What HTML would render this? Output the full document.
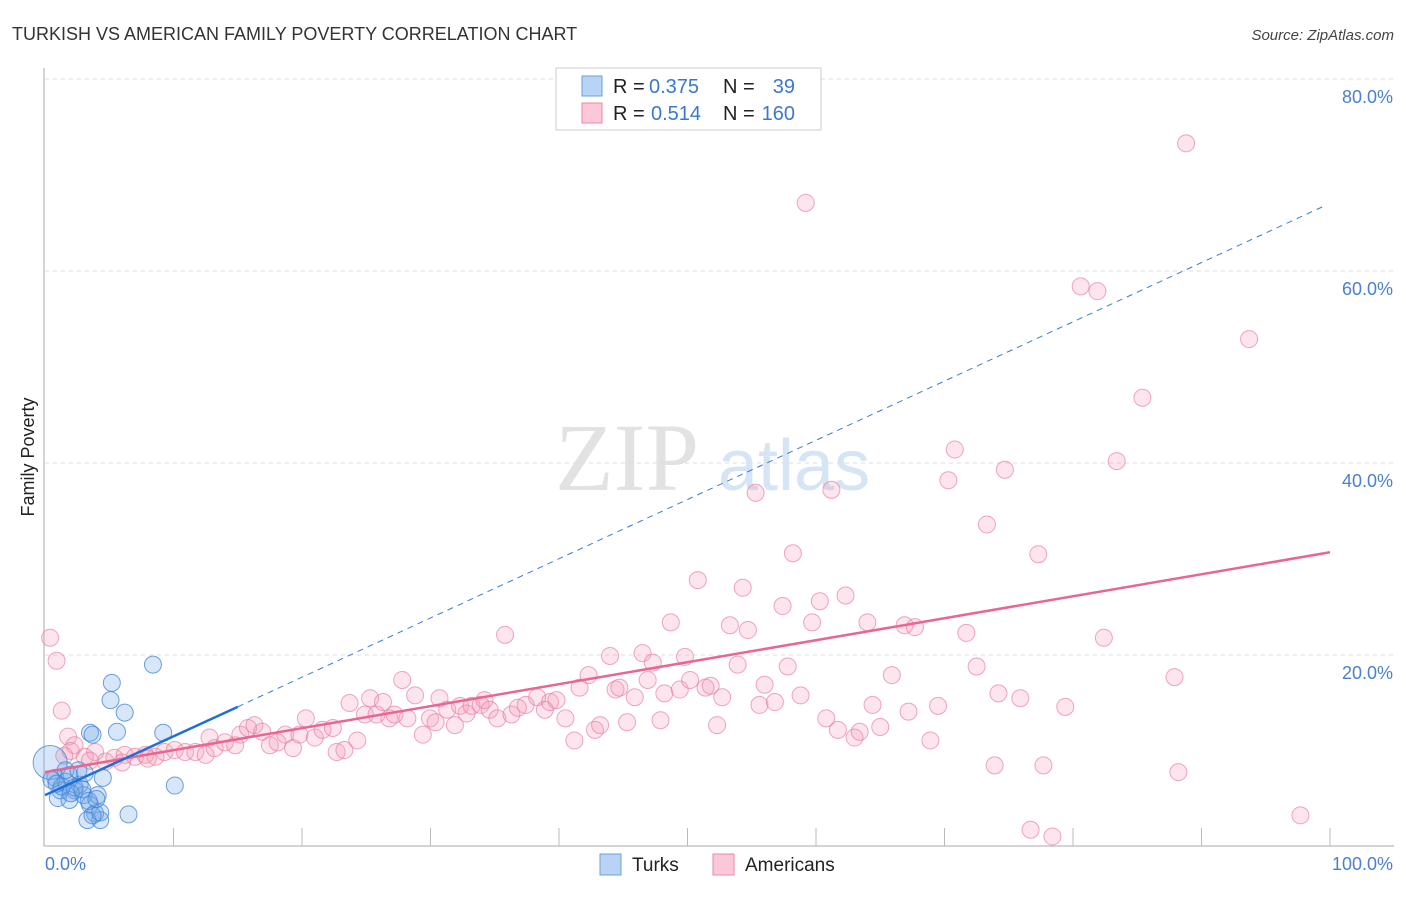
<!DOCTYPE html>
<html><head><meta charset="utf-8"><style>
body{margin:0;background:#fff;font-family:"Liberation Sans",sans-serif}
</style></head><body>
<svg id="c" width="1406" height="892" xmlns="http://www.w3.org/2000/svg">
<text x="12" y="40" font-size="18" fill="#333">TURKISH VS AMERICAN FAMILY POVERTY CORRELATION CHART</text>
<text x="1394" y="40" font-size="15" fill="#444" font-style="italic" text-anchor="end">Source: ZipAtlas.com</text>
<g><text x="555" y="490" font-size="96" font-family="Liberation Serif,serif" fill="#e2e2e2">ZIP</text><text x="718" y="490" font-size="72" fill="#d6e5f5">atlas</text></g>
<g id="grid"></g><g id="pts"></g><g id="lines"></g>
<text transform="translate(34,457) rotate(-90)" font-size="18" fill="#222" text-anchor="middle">Family Poverty</text>
<text x="45" y="870" font-size="18" fill="#4a7fd0">0.0%</text>
<text x="1393" y="870" font-size="18" fill="#4a7fd0" text-anchor="end">100.0%</text>
<g font-size="20">
<rect x="556" y="68" width="265" height="62" fill="#fff" stroke="#ccc"/>
<rect x="582" y="76" width="20" height="20" fill="#b8d3f5" stroke="#6c9fdc"/>
<rect x="582" y="103" width="20" height="20" fill="#fbc8d8" stroke="#e889a8"/>
<text x="613" y="93" fill="#222">R =</text><text x="649" y="93" fill="#3a78d0">0.375</text>
<text x="723" y="93" fill="#222">N =</text><text x="795" y="93" fill="#3a78d0" text-anchor="end">39</text>
<text x="613" y="120" fill="#222">R =</text><text x="651" y="120" fill="#3a78d0">0.514</text>
<text x="723" y="120" fill="#222">N =</text><text x="795" y="120" fill="#3a78d0" text-anchor="end">160</text>
</g>
<g>
<rect x="600" y="854" width="21" height="21" fill="#b8d3f5" stroke="#6c9fdc"/>
<text x="632" y="871" font-size="19" fill="#222">Turks</text>
<rect x="713" y="854" width="21" height="21" fill="#fbc8d8" stroke="#e889a8"/>
<text x="745" y="871" font-size="19" fill="#222">Americans</text>
</g>
</svg>
<script>
const yTicks=[20,40,60,80];
const xTicks=[10,20,30,40,50,60,70,80,90,100];
const turksX=[8.4,5.2,5.1,6.2,3.5,3.7,5.6,9.2,10.1,6.5,0.4,0.8,1.2,1.6,1.9,1.0,2.3,2.7,3.0,1.9,3.5,3.9,4.3,3.3,3.7,4.3,4.5,4.1,1.6,2.6,3.1,2.3,0.5,1.3,2.0,2.9,3.4,4.0,0.9];
const turksY=[19.0,17.1,15.3,14.0,11.9,11.7,12.0,11.9,6.4,3.4,8.8,7.2,5.9,6.8,7.5,5.1,5.9,6.5,5.4,4.9,4.4,3.5,2.8,2.8,3.3,3.6,7.2,5.4,8.0,8.0,7.7,6.2,7.0,6.3,5.6,6.0,4.8,5.0,6.6];
const amerX=[0.4,0.9,1.3,1.8,2.3,3.1,3.9,4.7,5.4,6.2,7.0,7.8,8.6,9.3,10.1,10.9,11.7,12.5,12.8,13.2,14.0,14.8,15.2,15.8,16.3,16.9,17.5,18.1,18.7,19.3,19.8,20.3,21.0,21.6,22.4,22.7,23.3,23.7,24.3,24.9,25.3,25.8,26.3,26.8,27.2,27.8,28.2,28.8,29.4,29.96,30.4,30.7,31.3,31.9,32.3,32.8,33.2,33.9,34.2,34.6,35.2,35.8,36.3,36.8,37.4,38.3,38.9,39.3,39.8,40.5,41.2,41.6,42.3,42.8,43.2,43.97,44.4,44.7,45.3,45.9,46.5,46.9,47.3,47.9,48.2,48.7,49.4,49.8,50.2,50.8,51.4,51.8,52.3,52.7,53.3,53.9,54.3,54.7,55.3,55.6,56.0,56.8,57.4,57.8,58.2,58.8,59.2,59.7,60.3,60.8,61.2,61.7,62.3,63.0,63.4,64.0,64.4,65.0,65.9,66.9,67.2,67.7,68.9,69.5,70.3,70.8,71.7,72.5,73.3,73.9,74.2,74.7,75.9,76.7,77.3,77.7,78.4,79.4,80.6,81.9,82.4,83.4,85.4,87.9,88.2,88.8,93.7,97.7,2.0,3.5,6.0,8.0,1.5];
const amerY=[21.8,19.4,14.2,11.5,10.6,9.4,9.9,8.9,9.3,9.6,9.4,9.6,9.4,9.9,10.1,9.9,9.9,9.6,11.4,10.3,10.9,10.6,11.7,12.4,12.7,12.0,10.6,10.9,11.7,10.3,11.7,13.4,11.4,12.2,12.4,9.9,10.1,15.0,11.1,13.8,15.5,13.8,15.1,13.4,13.8,17.4,13.4,15.8,11.7,13.4,13.0,15.5,14.3,12.7,14.7,13.9,14.7,14.8,15.3,14.3,13.4,22.1,13.8,14.5,14.8,15.6,14.3,15.1,15.3,13.4,11.1,16.6,17.9,12.2,12.7,19.9,16.4,16.6,13.0,15.6,20.2,17.4,19.2,13.2,16.0,23.4,16.4,19.8,17.4,27.8,16.6,16.8,12.7,15.6,23.1,19.0,27.0,22.6,36.9,14.8,16.9,15.1,25.1,18.8,30.6,15.8,67.1,23.4,25.6,13.4,37.2,12.2,26.2,11.4,12.0,23.4,14.8,12.5,17.9,23.1,14.1,22.9,11.1,14.7,38.2,41.4,22.3,18.8,33.6,8.5,16.0,39.3,15.5,1.8,30.5,8.5,1.1,14.6,58.4,57.9,21.8,40.2,46.8,17.7,7.8,73.3,52.9,3.3,10.0,9.0,8.8,9.2,9.5];
const turkLine=[5.4,14.6,66.8];
const amerLine=[7.8,30.7];
const NS='http://www.w3.org/2000/svg';
const X=v=>45+v*12.85, Y=v=>847-v*9.6;
function mk(t,a,p){const e=document.createElementNS(NS,t);for(const k in a)e.setAttribute(k,a[k]);document.getElementById(p).appendChild(e);return e;}
let g;
g=mk('line',{x1:44,y1:68,x2:44,y2:846,stroke:'#aaa'},'grid');


g=mk('line',{x1:44,y1:846,x2:1394,y2:846,stroke:'#aaa'},'grid');


yTicks.forEach(t=>{
 const l=mk('line',{x1:45,x2:1394,y1:Y(t),y2:Y(t),stroke:'#ddd','stroke-dasharray':'4,4'},'grid');
 
 
 const tx=mk('text',{x:1393,y:Y(t)+24,'font-size':18,fill:'#4a7fd0','text-anchor':'end'},'grid');tx.textContent=t.toFixed(1)+'%';
 
 
});
xTicks.forEach(t=>{
 const l=mk('line',{x1:X(t),x2:X(t),y1:828,y2:846,stroke:'#bbb'},'grid');
 
 
});
amerX.forEach((v,i)=>{const c=mk('circle',{cx:X(v),cy:Y(amerY[i]),r:8.5,fill:'rgba(244,150,180,0.25)',stroke:'rgba(232,120,155,0.65)','stroke-width':1},'pts');
 
 });
turksX.forEach((v,i)=>{const c=mk('circle',{cx:X(v),cy:Y(turksY[i]),r:i==10?17:8.5,fill:'rgba(110,165,230,0.28)',stroke:'rgba(60,130,215,0.75)','stroke-width':1},'pts');
 
 });
g=mk('line',{x1:X(0),y1:Y(amerLine[0]),x2:X(100),y2:Y(amerLine[1]),stroke:'#e8668f','stroke-width':2.5},'lines');


g=mk('line',{x1:X(15),y1:Y(turkLine[1]),x2:X(99.6),y2:Y(turkLine[2]),stroke:'#3a7bd8','stroke-width':1,'stroke-dasharray':'6,5'},'lines');


g=mk('line',{x1:X(0),y1:Y(turkLine[0]),x2:X(15),y2:Y(turkLine[1]),stroke:'#1f6fd8','stroke-width':2.5},'lines');


</script>
</body></html>
